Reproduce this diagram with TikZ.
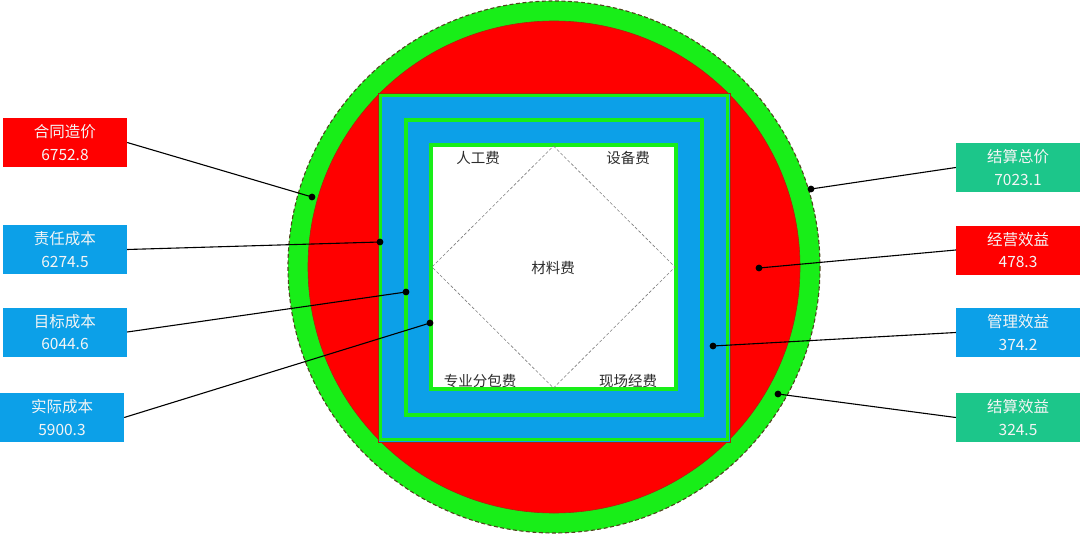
\documentclass[tikz,border=0pt]{standalone}
\usepackage{fontspec}
\setmainfont{Noto Sans CJK SC}
\usetikzlibrary{calc}
\definecolor{cred}{RGB}{255,0,0}
\definecolor{cgreen}{RGB}{24,238,24}
\definecolor{cblue}{RGB}{12,160,232}
\definecolor{cteal}{RGB}{28,198,138}
\definecolor{edgedark}{RGB}{80,70,30}
\definecolor{edgered}{RGB}{170,40,10}
\definecolor{txtgray}{RGB}{45,45,45}
\definecolor{boxtxt}{RGB}{245,245,245}
\tikzset{
  infobox/.style={minimum width=124pt, minimum height=49pt, inner sep=0pt,
    text=boxtxt, align=center, font=\fontsize{15.5}{22.5}\selectfont},
  redbox/.style={infobox, fill=cred},
  bluebox/.style={infobox, fill=cblue},
  tealbox/.style={infobox, fill=cteal},
  costlabel/.style={text=txtgray, font=\fontsize{14.5}{17}\selectfont, inner sep=0pt},
  link/.style={draw=black, line width=1.1pt},
  pin/.style={fill=black, radius=3.4pt}
}
\begin{document}
\begin{tikzpicture}[x=1pt,y=-1pt]
\useasboundingbox (0,0) rectangle (1080,535);
% big circle
\coordinate (c) at (554,267);
\fill[cgreen] (c) circle (266);
\draw[edgedark, line width=1.1pt, dash pattern=on 4pt off 2.5pt] (c) circle (266);
\fill[cred] (c) circle (246);
\draw[edgered, line width=0.6pt] (c) circle (246);
% outer square
\fill[cblue] (378,93) rectangle (730,442);
\draw[edgered, line width=0.6pt] (378,93) rectangle (730,442);
\draw[cgreen, line width=3pt] (380.5,95.5) rectangle (727.5,439.5);
% middle square
\draw[cgreen, line width=3.5pt] (406,120) rectangle (702,415);
% inner square
\draw[cgreen, line width=4pt, fill=white] (431,145) rectangle (676,389);
% diamond
\coordinate (dt) at (553.5,146);
\coordinate (dr) at (675,267);
\coordinate (db) at (553.5,388);
\coordinate (dl) at (432,267);
\draw[gray, line width=0.6pt, dash pattern=on 3pt off 2pt] (dt) -- (dr) -- (db) -- (dl) -- cycle;
% inner labels
\node[costlabel] (rg) at (478,158) {人工费};
\node[costlabel] (sb) at (628,158) {设备费};
\node[costlabel] (cl) at (553,268) {材料费};
\node[costlabel] (fb) at (480,381) {专业分包费};
\node[costlabel] (xc) at (628,381) {现场经费};
% left boxes
\node[redbox]  (b1) at (65,142.5) {合同造价\\6752.8};
\node[bluebox] (b2) at (65,249.5) {责任成本\\6274.5};
\node[bluebox] (b3) at (65,332) {目标成本\\6044.6};
\node[bluebox] (b4) at (62,417.5) {实际成本\\5900.3};
% right boxes
\node[tealbox] (b5) at (1018,167.5) {结算总价\\7023.1};
\node[redbox]  (b6) at (1018,250) {经营效益\\478.3};
\node[bluebox] (b7) at (1018,332.5) {管理效益\\374.2};
\node[tealbox] (b8) at (1018,417.5) {结算效益\\324.5};
% dot coordinates
\coordinate (p1) at (312,197);
\coordinate (p2) at (380,242);
\coordinate (p3) at (406,292);
\coordinate (p4) at (430,323);
\coordinate (p5) at (811,189);
\coordinate (p6) at (759,268);
\coordinate (p7) at (713,346);
\coordinate (p8) at (778,394);
% connectors
\draw[link] (b1.east) -- (p1);
\draw[link] (b2.east) -- (p2);
\draw[link] (b3.east) -- (p3);
\draw[link] (b4.east) -- (p4);
\draw[link] (b5.west) -- (p5);
\draw[link] (b6.west) -- (p6);
\draw[link] (b7.west) -- (p7);
\draw[link] (b8.west) -- (p8);
\foreach \p in {p1,p2,p3,p4,p5,p6,p7,p8} \fill[pin] (\p) circle;
\end{tikzpicture}
\end{document}
